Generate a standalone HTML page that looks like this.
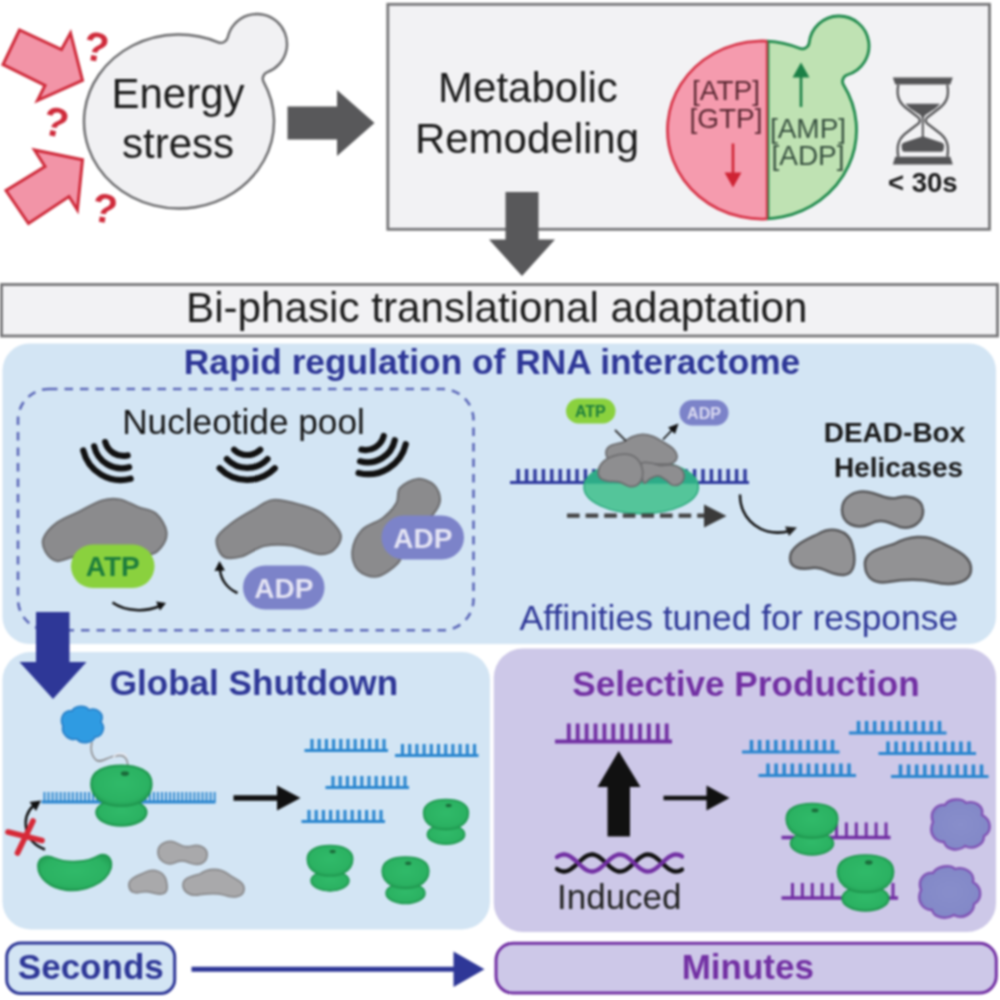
<!DOCTYPE html>
<html><head><meta charset="utf-8"><title>Bi-phasic translational adaptation</title>
<style>
html,body{margin:0;padding:0;background:#fff;}
body{width:1000px;height:1000px;overflow:hidden;}
svg{display:block;font-family:"Liberation Sans",Arial,sans-serif;filter:blur(0.9px);}
</style></head><body>
<svg width="1000" height="1000" viewBox="0 0 1000 1000">
<rect width="1000" height="1000" fill="#fff"/>
<g id="cell1">
<path d="M263.72 82.14 A95 87 0 1 1 218.24 42.27 A7 7 0 0 0 227.75 37.35 A30 30 0 1 1 267.41 72.14 A7 7 0 0 0 263.72 82.14Z" fill="#f1f1f3" stroke="#6a6a6c" stroke-width="2.400"/>
<text x="178" y="108" font-size="42" text-anchor="middle" fill="#1b1b1b">Energy</text>
<text x="178" y="157.500" font-size="42" text-anchor="middle" fill="#1b1b1b">stress</text>
</g>
<g id="redarrows" fill="#f294a7" stroke="#cf2b3b" stroke-width="3" stroke-linejoin="miter">
<polygon points="19.5,30 3,64.5 45,85.5 37.5,100.5 82.500,80.300 70.5,33 61.5,49.5"/>
<polygon points="6,190.5 28.5,223.5 69,196.5 77.4,210 82.500,159.800 34.5,150 45,166.5"/>
</g>
<g font-size="41" font-weight="bold" fill="#cf2b3b" text-anchor="middle">
<text transform="translate(94,61) rotate(9)">?</text>
<text transform="translate(53,136) rotate(12)">?</text>
<text transform="translate(102.500,222.500) rotate(9)">?</text>
</g>
<polygon points="287.5,106.5 337,106.5 337,90 374.5,123 337,156 337,139.5 287.5,139.5" fill="#58585a"/>
<rect x="387.800" y="4.300" width="601.700" height="225" fill="#f2f2f4" stroke="#767678" stroke-width="2.800"/>
<text x="528" y="102" font-size="42" text-anchor="middle" fill="#1b1b1b">Metabolic</text>
<text x="527" y="153" font-size="42" text-anchor="middle" fill="#1b1b1b">Remodeling</text>
<defs>
<clipPath id="leftHalf"><rect x="600" y="0" width="167" height="240"/></clipPath>
<clipPath id="rightHalf"><rect x="767" y="0" width="233" height="240"/></clipPath>
</defs>
<g clip-path="url(#rightHalf)">
<path d="M843.59 85.10 A94.5 89 0 1 1 799.53 48.32 A7 7 0 0 0 809.19 42.66 A30 30 0 1 1 847.60 74.74 A7 7 0 0 0 843.59 85.10Z" fill="#bfe2b3" stroke="#1f8a4c" stroke-width="2.800"/>
</g>
<g clip-path="url(#leftHalf)">
<path d="M843.59 85.10 A94.5 89 0 1 1 799.53 48.32 A7 7 0 0 0 809.19 42.66 A30 30 0 1 1 847.60 74.74 A7 7 0 0 0 843.59 85.10Z" fill="#f59bae" stroke="#d8364a" stroke-width="2.800"/>
</g>
<path d="M767 41V219" stroke="#d8364a" stroke-width="2.4"/>
<path d="M768.6 41V219" stroke="#1f8a4c" stroke-width="1.6"/>
<g font-size="28" text-anchor="middle">
<text x="726" y="100" fill="#5b2833">[ATP]</text>
<text x="726" y="128" fill="#5b2833">[GTP]</text>
<text x="808" y="138" fill="#37503f">[AMP]</text>
<text x="808" y="165" fill="#37503f">[ADP]</text>
</g>
<path d="M733 143.500V176" stroke="#cf2334" stroke-width="2.6"/>
<polygon points="724.500,172.500 741.500,172.500 733,187.500" fill="#cf2334"/>
<path d="M801 107V74" stroke="#1a8046" stroke-width="2.6"/>
<polygon points="792.500,77.500 809.500,77.500 801,62.500" fill="#1a8046"/>
<g id="hourglass" fill="#555557">
<polygon points="892.800,77.500 952.800,77.500 950.300,84.600 895.300,84.600"/>
<polygon points="895.300,156.800 950.300,156.800 952.800,164.400 892.800,164.400"/>
<path d="M898.300 84.600 C896 97 899.500 103.500 908 109.500 L918.500 117.500 Q921.200 120.500 918.500 123.500 L908 131.500 C899.500 137.500 896 144 898.300 156.800 M947.300 84.600 C949.600 97 946.100 103.500 937.600 109.500 L927.100 117.500 Q924.400 120.500 927.100 123.500 L937.600 131.500 C946.100 137.500 949.600 144 947.300 156.800" fill="none" stroke="#555557" stroke-width="2.300"/>
<path d="M905.300 103.800 H940.200 C936 109 929 112.500 926 114.500 C924.300 115.700 923.800 117 923.800 119 V137 H921.800 V119 C921.800 117 921.300 115.700 919.600 114.500 C916.600 112.500 909.600 109 905.300 103.800Z"/>
<path d="M922.800 136.300 L941.500 142.500 C943.500 143.300 944.200 144.500 944 146.500 L943.600 149.500 C943.300 151.200 942.300 151.800 940.500 151.800 H905.100 C903.300 151.800 902.300 151.200 902 149.500 L901.600 146.500 C901.400 144.500 902.100 143.300 904.100 142.500Z"/>
</g>
<text x="922.800" y="191.800" font-size="27.500" font-weight="bold" text-anchor="middle" fill="#1b1b1b">&lt; 30s</text>
<polygon points="505.5,192 538.5,192 538.5,239.5 555,239.5 522,276 489,239.500 505.5,239.500" fill="#58585a"/>
<rect x="1.500" y="284.500" width="996" height="51.500" fill="#f2f2f4" stroke="#767678" stroke-width="2.800"/>
<text x="496.800" y="321.500" font-size="42.200" text-anchor="middle" fill="#1b1b1b">Bi-phasic translational adaptation</text>
<rect x="2.500" y="343.500" width="993.500" height="300.500" rx="27" fill="#d3e5f4"/>
<text x="492" y="374" font-size="35.300" font-weight="bold" text-anchor="middle" fill="#2e3797">Rapid regulation of RNA interactome</text>
<rect x="18" y="389" width="455.500" height="241.300" rx="31" fill="none" stroke="#5c68b8" stroke-width="2.600" stroke-dasharray="8.500 7"/>
<text x="243.500" y="433.700" font-size="35.200" text-anchor="middle" fill="#151515">Nucleotide pool</text>
<g fill="none" stroke="#111" stroke-width="6.200" stroke-linecap="round">
<path transform="translate(121.4,440.4) rotate(30.8)" d="M13.06 9.72A18.8 18.8 0 0 1 -13.06 9.72M20.31 19.07A28 28 0 0 1 -20.31 19.07M27.58 28.21A38.6 38.6 0 0 1 -27.58 28.21"/>
<path transform="translate(247.2,440) rotate(0)" d="M13.06 9.72A18.8 18.8 0 0 1 -13.06 9.72M20.31 19.07A28 28 0 0 1 -20.31 19.07M27.58 28.21A38.6 38.6 0 0 1 -27.58 28.21"/>
<path transform="translate(367.5,434.5) rotate(-31.3)" d="M13.06 9.72A18.8 18.8 0 0 1 -13.06 9.72M20.31 19.07A28 28 0 0 1 -20.31 19.07M27.58 28.21A38.6 38.6 0 0 1 -27.58 28.21"/>
</g>
<g fill="#8b8b8d" stroke="#6f6f71" stroke-width="2.200">
<path d="M43.5 538.5C45.4 533.6 51.0 527.2 57.0 522.7C63.0 518.2 72.0 515.2 79.5 511.5C87.0 507.8 95.2 502.5 102.0 500.5C108.8 498.5 114.0 498.4 120.0 499.5C126.0 500.6 132.0 504.6 138.0 507.0C144.0 509.4 151.3 509.6 156.0 513.7C160.7 517.8 165.7 526.0 166.4 531.7C167.2 537.4 163.9 544.1 160.5 548.0C157.1 551.9 154.4 554.3 146.0 555.0C137.6 555.7 121.8 551.8 110.0 552.0C98.2 552.2 83.8 555.0 75.0 556.5C66.2 558.0 61.9 561.8 57.0 561.0C52.1 560.2 48.0 555.8 45.7 552.0C43.5 548.2 41.6 543.4 43.5 538.5Z"/>
<path d="M216.8 538.5C218.3 532.9 226.1 527.6 232.5 522.7C238.9 517.8 248.2 512.8 255.0 509.0C261.8 505.2 265.5 500.7 273.0 500.0C280.5 499.3 291.8 502.4 300.0 504.7C308.2 507.0 315.8 508.8 322.5 513.7C329.2 518.6 338.6 528.0 340.5 534.0C342.4 540.0 337.4 546.7 333.7 550.0C329.9 553.3 325.1 554.8 318.0 554.0C310.9 553.2 300.0 546.8 291.0 545.5C282.0 544.2 272.2 544.2 264.0 546.0C255.8 547.8 248.2 554.8 241.5 556.5C234.8 558.2 227.6 559.5 223.5 556.5C219.4 553.5 215.3 544.1 216.8 538.5Z"/>
<path d="M417.5 479.0C423.2 478.5 430.2 481.5 434.0 485.0C437.8 488.5 440.2 495.0 440.0 500.0C439.8 505.0 436.7 510.0 432.5 515.0C428.3 520.0 419.8 524.5 415.0 530.0C410.2 535.5 406.8 542.5 404.0 548.0C401.2 553.5 402.5 558.2 398.0 563.0C393.5 567.8 383.7 575.3 377.0 576.5C370.3 577.7 362.1 574.2 358.0 570.0C353.9 565.8 351.7 557.7 352.4 551.0C353.1 544.3 356.9 535.5 362.0 530.0C367.1 524.5 377.2 522.5 383.0 518.0C388.8 513.5 393.7 508.0 396.5 503.0C399.3 498.0 396.5 492.0 400.0 488.0C403.5 484.0 411.8 479.5 417.5 479.0Z"/>
</g>
<g font-size="28" font-weight="bold" text-anchor="middle">
<rect x="71" y="544.500" width="83.500" height="43.500" rx="21.700" fill="#8ad13e"/>
<text x="112.800" y="575.500" fill="#1e7d3c">ATP</text>
<rect x="243" y="565.500" width="81.500" height="44" rx="22" fill="#7c83c9"/>
<text x="283.800" y="597.500" fill="#e4e4f4">ADP</text>
<rect x="381.500" y="515.500" width="82.500" height="44" rx="22" fill="#7c83c9"/>
<text x="422.800" y="547.500" fill="#e4e4f4">ADP</text>
</g>
<g fill="none" stroke="#111" stroke-width="2.500">
<path d="M112.500 602.500 C126 612 146 612 160 606"/>
<path d="M237.500 593 C226 588 220 578 220 568"/>
</g>
<polygon points="166,603 156,601.500 160,610.500" fill="#111"/>
<polygon points="219.500,561 214.500,571 225,570.500" fill="#111"/>
<path d="M510 482.5H749" stroke="#2f3a9e" stroke-width="3.2" fill="none"/><path d="M518.2 482.5v-13.5M526.6 482.5v-13.5M535.0 482.5v-13.5M543.4 482.5v-13.5M551.8 482.5v-13.5M560.2 482.5v-13.5M568.6 482.5v-13.5M577.0 482.5v-13.5M585.4 482.5v-13.5M593.8 482.5v-13.5M602.2 482.5v-13.5M610.6 482.5v-13.5M619.0 482.5v-13.5M627.4 482.5v-13.5M635.8 482.5v-13.5M644.2 482.5v-13.5M652.6 482.5v-13.5M661.0 482.5v-13.5M669.4 482.5v-13.5M677.8 482.5v-13.5M686.2 482.5v-13.5M694.6 482.5v-13.5M703.0 482.5v-13.5M711.4 482.5v-13.5M719.8 482.5v-13.5M728.2 482.5v-13.5M736.6 482.5v-13.5M745.0 482.5v-13.5" stroke="#2f3a9e" stroke-width="3.4" fill="none"/>
<clipPath id="ellTop"><rect x="580" y="455" width="125" height="28.700"/></clipPath>
<ellipse cx="641.200" cy="487" rx="57.200" ry="26.700" fill="#54c59a" stroke="#2aa87c" stroke-width="1.500"/>
<ellipse cx="641.200" cy="487" rx="56.400" ry="25.900" fill="#2dab88" clip-path="url(#ellTop)"/>
<g fill="#8e8e90" stroke="#6e6e70" stroke-width="1.800">
<path d="M606.0 453.8C605.6 451.2 607.2 447.9 610.0 446.0C612.8 444.1 619.3 443.6 623.0 442.1C626.7 440.6 628.8 438.2 632.0 436.9C635.2 435.6 638.9 434.4 642.4 434.3C645.9 434.2 649.3 435.0 652.8 436.3C656.3 437.6 659.7 439.9 663.2 442.1C666.7 444.3 671.3 446.7 673.6 449.3C675.9 451.9 677.3 455.3 676.9 457.7C676.5 460.1 674.1 462.5 671.0 463.6C667.9 464.7 664.5 464.1 658.0 464.2C651.5 464.3 639.6 464.6 632.0 464.2C624.4 463.8 616.8 463.3 612.5 461.6C608.2 459.9 606.4 456.4 606.0 453.8Z"/>
<path d="M641.1 464.2C642.2 460.9 647.0 462.7 650.2 462.9C653.5 463.1 657.1 465.2 660.6 465.5C664.1 465.8 667.8 464.5 671.0 464.9C674.2 465.3 677.9 466.3 680.1 468.1C682.3 469.9 684.0 473.3 684.0 475.9C684.0 478.5 682.1 482.2 680.1 483.7C678.1 485.2 674.7 485.6 672.3 485.0C669.9 484.4 668.2 481.3 665.8 479.8C663.4 478.3 660.6 476.1 658.0 475.9C655.4 475.7 652.6 477.4 650.2 478.5C647.8 479.6 645.2 484.8 643.7 482.4C642.2 480.0 640.0 467.4 641.1 464.2Z"/>
<path d="M598.2 472.0C598.4 469.4 599.7 465.5 602.1 462.9C604.5 460.3 608.6 457.9 612.5 456.4C616.4 454.9 621.6 453.9 625.5 454.1C629.4 454.3 633.2 455.6 635.9 457.7C638.6 459.8 640.7 463.6 641.8 466.8C642.9 470.1 643.2 474.2 642.4 477.2C641.6 480.2 639.4 483.5 637.2 485.0C635.0 486.5 632.4 486.8 629.4 486.3C626.4 485.8 622.5 482.7 619.0 481.8C615.5 480.9 611.6 481.7 608.6 481.1C605.6 480.6 602.5 480.0 600.8 478.5C599.1 477.0 598.0 474.6 598.2 472.0Z"/>
</g>
<rect x="566" y="398.500" width="49.500" height="25" rx="12.500" fill="#8ad13e"/>
<text x="590.300" y="416.500" font-size="16" font-weight="bold" text-anchor="middle" fill="#1e7d3c">ATP</text>
<rect x="679.500" y="400" width="49" height="25.500" rx="12.700" fill="#7c83c9"/>
<text x="704" y="418.500" font-size="16" font-weight="bold" text-anchor="middle" fill="#dcdcf2">ADP</text>
<path d="M615 430 L626 441" stroke="#333" stroke-width="1.800"/>
<path d="M663 439.500 L673 429" stroke="#111" stroke-width="1.800"/>
<polygon points="678.500,423.500 668,427.500 675,434" fill="#111"/>
<path d="M567 515.700 H706" stroke="#444" stroke-width="4.300" stroke-dasharray="12.600 6"/>
<polygon points="704,504.500 726.500,516 704,527.500" fill="#3a3a3a"/>
<path d="M740 494.500 C740 520 762 538 790 531" fill="none" stroke="#111" stroke-width="2.500"/>
<polygon points="797,527.500 785,526.500 789,536" fill="#222"/>
<text x="894.500" y="442" font-size="28" font-weight="bold" text-anchor="middle" fill="#1a1a1a">DEAD-Box</text>
<text x="898.500" y="476.500" font-size="28" font-weight="bold" text-anchor="middle" fill="#1a1a1a">Helicases</text>
<g fill="#929294" stroke="#58585a" stroke-width="2.500">
<path d="M842 510 C842 496 856 490 868 492 C880 494 886 500 896 498 C908 494 922 498 923 510 C924 522 912 530 900 527 C888 522 880 518 870 524 C856 530 842 524 842 510Z"/>
<path d="M790 558 C790 546 806 540 818 534 C832 526 848 530 852 544 C856 558 856 574 844 575 C830 576 824 566 812 568 C800 570 790 568 790 558Z"/>
<path d="M865 566 C863 552 880 548 894 544 C908 536 926 534 940 542 C956 550 972 556 971 570 C970 584 950 586 934 582 C916 578 900 580 888 582 C874 584 866 578 865 566Z"/>
</g>
<text x="738.900" y="629.800" font-size="35.450" text-anchor="middle" fill="#2e3797">Affinities tuned for response</text>
<defs>
<radialGradient id="gRib" cx="0.5" cy="0.45" r="0.62"><stop offset="0" stop-color="#30ba69"/><stop offset="0.7" stop-color="#2bb262"/><stop offset="1" stop-color="#1f9850"/></radialGradient>
<radialGradient id="gPur" cx="0.5" cy="0.5" r="0.6"><stop offset="0" stop-color="#888ecb"/><stop offset="0.75" stop-color="#8389c8"/><stop offset="1" stop-color="#7a72be"/></radialGradient>
</defs>
<rect x="2.500" y="652" width="487.500" height="277.500" rx="28" fill="#d3e5f4"/>
<rect x="493.800" y="648.500" width="502.200" height="283.500" rx="29" fill="#cdc8e8"/>
<polygon points="36,612 69.500,612 69.500,662 86.500,662 53,699 19.500,662 36,662" fill="#2e3797"/>
<text x="109.700" y="695" font-size="35.100" font-weight="bold" fill="#2e3797">Global Shutdown</text>
<text x="572.200" y="695.500" font-size="35.150" font-weight="bold" fill="#7230a3">Selective Production</text>
<path d="M41.5 802H215.5" stroke="#2a86cf" stroke-width="2.8" fill="none"/><path d="M44.5 802v-10M48.5 802v-10M52.6 802v-10M56.6 802v-10M60.7 802v-10M64.7 802v-10M68.8 802v-10M72.8 802v-10M76.9 802v-10M80.9 802v-10M85.0 802v-10M89.0 802v-10M93.1 802v-10M97.1 802v-10M101.2 802v-10M105.2 802v-10M109.3 802v-10M113.3 802v-10M117.4 802v-10M121.4 802v-10M125.5 802v-10M129.5 802v-10M133.6 802v-10M137.6 802v-10M141.7 802v-10M145.8 802v-10M149.8 802v-10M153.9 802v-10M157.9 802v-10M162.0 802v-10M166.0 802v-10M170.1 802v-10M174.1 802v-10M178.2 802v-10M182.2 802v-10M186.3 802v-10M190.3 802v-10M194.4 802v-10M198.4 802v-10M202.5 802v-10M206.5 802v-10M210.6 802v-10M214.6 802v-10" stroke="#2a86cf" stroke-width="1.9" fill="none"/>
<path d="M63 726 C59 718 64 710 72 711 C75 705 86 705 89 710 C97 707 105 714 101 722 C106 728 102 737 95 737 C92 744 80 744 77 739 C69 741 61 734 63 726Z" fill="#2f9be2" stroke="#2a80c8" stroke-width="1.800"/>
<path d="M92 742 C90 750 92 756 96 760 C102 764 108 756 116 756 C124 754 128 758 128 768" fill="none" stroke="#8e8e90" stroke-width="1.600"/>
<path d="M113 758 C116 752 126 752 127 758" fill="none" stroke="#e8e8ee" stroke-width="1.400"/>
<g transform="translate(121.4,765.5) scale(1.01)">
<ellipse cx="0" cy="46.500" rx="25" ry="13.300" fill="url(#gRib)" stroke="#1f964e" stroke-width="1.800"/>
<path d="M-30 18 C-30 5 -16 0 0 0 C16 0 30 5 30 18 C30 27 25 33 17 37 C9 41 -9 41 -17 37 C-25 33 -30 27 -30 18Z" fill="url(#gRib)" stroke="#1f964e" stroke-width="1.800"/>
<ellipse cx="3.500" cy="8" rx="4" ry="2.300" fill="#1a6b3a"/>
</g>
<path d="M45 849.500 C24 842 20 818 34 805" fill="none" stroke="#111" stroke-width="2.500"/>
<polygon points="41,800.500 29.500,802 36,811" fill="#111"/>
<path d="M8 832 L42 840.500 M33 821 L17.500 853" stroke="#d62a38" stroke-width="5.600" stroke-linecap="round"/>
<path d="M38 866 C38 858 46 854 54 858 C68 864 88 862 98 856 C106 852 113 858 111 868 C106 884 84 892 66 890 C50 888 38 878 38 866Z" fill="url(#gRib)" stroke="#1f964e" stroke-width="1.800"/>
<g fill="#a9a9ab" stroke="#8a8a8c" stroke-width="1.800">
<path d="M158 852 C158 844 167 840 174 842 C182 846 186 848 192 846 C200 844 208 848 207 856 C206 864 198 866 190 863 C184 860 180 860 174 863 C166 866 158 860 158 852Z"/>
<path d="M129 886 C128 878 138 876 146 872 C154 868 164 872 166 880 C168 888 168 894 160 894 C152 894 150 890 142 892 C134 894 130 892 129 886Z"/>
<path d="M183 886 C182 878 192 876 200 874 C208 868 220 868 228 874 C236 880 245 882 244 890 C243 898 232 898 224 895 C214 892 206 894 198 895 C190 896 184 892 183 886Z"/>
</g>
<path d="M233.500 798 H280" stroke="#111" stroke-width="5.400"/>
<polygon points="277,785.500 300.500,798 277,810.500" fill="#111"/>
<path d="M304.5 750.5H388.0" stroke="#2a86cf" stroke-width="2.8" fill="none"/><path d="M312.0 750.5v-11.5M319.2 750.5v-11.5M326.4 750.5v-11.5M333.6 750.5v-11.5M340.8 750.5v-11.5M348.0 750.5v-11.5M355.2 750.5v-11.5M362.4 750.5v-11.5M369.6 750.5v-11.5M376.8 750.5v-11.5M384.0 750.5v-11.5" stroke="#2a86cf" stroke-width="3.1" fill="none"/>
<path d="M395 755.5H478.5" stroke="#2a86cf" stroke-width="2.8" fill="none"/><path d="M402.5 755.5v-11.5M409.7 755.5v-11.5M416.9 755.5v-11.5M424.1 755.5v-11.5M431.3 755.5v-11.5M438.5 755.5v-11.5M445.7 755.5v-11.5M452.9 755.5v-11.5M460.1 755.5v-11.5M467.3 755.5v-11.5M474.5 755.5v-11.5" stroke="#2a86cf" stroke-width="3.1" fill="none"/>
<path d="M325.5 787.5H409.0" stroke="#2a86cf" stroke-width="2.8" fill="none"/><path d="M333.0 787.5v-11.5M340.2 787.5v-11.5M347.4 787.5v-11.5M354.6 787.5v-11.5M361.8 787.5v-11.5M369.0 787.5v-11.5M376.2 787.5v-11.5M383.4 787.5v-11.5M390.6 787.5v-11.5M397.8 787.5v-11.5M405.0 787.5v-11.5" stroke="#2a86cf" stroke-width="3.1" fill="none"/>
<path d="M301.5 821.5H385.0" stroke="#2a86cf" stroke-width="2.8" fill="none"/><path d="M309.0 821.5v-11.5M316.2 821.5v-11.5M323.4 821.5v-11.5M330.6 821.5v-11.5M337.8 821.5v-11.5M345.0 821.5v-11.5M352.2 821.5v-11.5M359.4 821.5v-11.5M366.6 821.5v-11.5M373.8 821.5v-11.5M381.0 821.5v-11.5" stroke="#2a86cf" stroke-width="3.1" fill="none"/>
<g transform="translate(330,845.5) scale(0.76)">
<ellipse cx="0" cy="46.500" rx="25" ry="13.300" fill="url(#gRib)" stroke="#1f964e" stroke-width="1.800"/>
<path d="M-30 18 C-30 5 -16 0 0 0 C16 0 30 5 30 18 C30 27 25 33 17 37 C9 41 -9 41 -17 37 C-25 33 -30 27 -30 18Z" fill="url(#gRib)" stroke="#1f964e" stroke-width="1.800"/>
<ellipse cx="3.500" cy="8" rx="4" ry="2.300" fill="#1a6b3a"/>
</g>
<g transform="translate(405.5,857) scale(0.78)">
<ellipse cx="0" cy="46.500" rx="25" ry="13.300" fill="url(#gRib)" stroke="#1f964e" stroke-width="1.800"/>
<path d="M-30 18 C-30 5 -16 0 0 0 C16 0 30 5 30 18 C30 27 25 33 17 37 C9 41 -9 41 -17 37 C-25 33 -30 27 -30 18Z" fill="url(#gRib)" stroke="#1f964e" stroke-width="1.800"/>
<ellipse cx="3.500" cy="8" rx="4" ry="2.300" fill="#1a6b3a"/>
</g>
<g transform="translate(446,799.5) scale(0.75)">
<ellipse cx="0" cy="46.500" rx="25" ry="13.300" fill="url(#gRib)" stroke="#1f964e" stroke-width="1.800"/>
<path d="M-30 18 C-30 5 -16 0 0 0 C16 0 30 5 30 18 C30 27 25 33 17 37 C9 41 -9 41 -17 37 C-25 33 -30 27 -30 18Z" fill="url(#gRib)" stroke="#1f964e" stroke-width="1.800"/>
<ellipse cx="3.500" cy="8" rx="4" ry="2.300" fill="#1a6b3a"/>
</g>
<path d="M555 741.5H672" stroke="#7230a3" stroke-width="3.8" fill="none"/><path d="M568.8 741.5v-18M577.7 741.5v-18M586.6 741.5v-18M595.5 741.5v-18M604.4 741.5v-18M613.3 741.5v-18M622.2 741.5v-18M631.1 741.5v-18M640.0 741.5v-18M648.9 741.5v-18M657.8 741.5v-18M666.7 741.5v-18" stroke="#7230a3" stroke-width="3.8" fill="none"/>
<polygon points="607.500,836.500 630,836.500 630,787 640.500,787 618.700,751 597.500,787 607.500,787" fill="#111"/>
<path d="M663.500 798 H710" stroke="#111" stroke-width="4.600"/>
<polygon points="706.500,785.500 729.500,798 706.500,810.500" fill="#111"/>
<path d="M557.0 869.0 L558.6 870.0 L560.1 870.7 L561.7 871.2 L563.2 871.5 L564.8 871.5 L566.4 871.2 L567.9 870.7 L569.5 869.9 L571.1 869.0 L572.6 867.8 L574.2 866.5 L575.8 865.1 L577.3 863.7 L578.9 862.2 L580.4 860.7 L582.0 859.3 L583.6 858.0 L585.1 856.9 L586.7 856.0 L588.2 855.2 L589.8 854.8 L591.4 854.5 L592.9 854.5 L594.5 854.8 L596.1 855.4 L597.6 856.1 L599.2 857.1 L600.8 858.3 L602.3 859.6 L603.9 861.0 L605.4 862.5 L607.0 864.0 L608.6 865.4 L610.1 866.8 L611.7 868.1 L613.2 869.2 L614.8 870.1 L616.4 870.8 L617.9 871.3 L619.5 871.5 L621.1 871.4 L622.6 871.1 L624.2 870.6 L625.8 869.8 L627.3 868.8 L628.9 867.6 L630.4 866.3 L632.0 864.9 L633.6 863.4 L635.1 861.9 L636.7 860.5 L638.2 859.1 L639.8 857.8 L641.4 856.7 L642.9 855.8 L644.5 855.1 L646.1 854.7 L647.6 854.5 L649.2 854.6 L650.8 854.9 L652.3 855.5 L653.9 856.3 L655.4 857.3 L657.0 858.5 L658.6 859.8 L660.1 861.2 L661.7 862.7 L663.2 864.2 L664.8 865.6 L666.4 867.0 L667.9 868.3 L669.5 869.3 L671.1 870.2 L672.6 870.9 L674.2 871.3 L675.8 871.5 L677.3 871.4 L678.9 871.1 L680.4 870.5 L682.0 869.6" fill="none" stroke="#111" stroke-width="4.300" stroke-linecap="round"/>
<path d="M557.0 857.0 L558.6 856.0 L560.1 855.3 L561.7 854.8 L563.2 854.5 L564.8 854.5 L566.4 854.8 L567.9 855.3 L569.5 856.1 L571.1 857.0 L572.6 858.2 L574.2 859.5 L575.8 860.9 L577.3 862.3 L578.9 863.8 L580.4 865.3 L582.0 866.7 L583.6 868.0 L585.1 869.1 L586.7 870.0 L588.2 870.8 L589.8 871.2 L591.4 871.5 L592.9 871.5 L594.5 871.2 L596.1 870.6 L597.6 869.9 L599.2 868.9 L600.8 867.7 L602.3 866.4 L603.9 865.0 L605.4 863.5 L607.0 862.0 L608.6 860.6 L610.1 859.2 L611.7 857.9 L613.2 856.8 L614.8 855.9 L616.4 855.2 L617.9 854.7 L619.5 854.5 L621.1 854.6 L622.6 854.9 L624.2 855.4 L625.8 856.2 L627.3 857.2 L628.9 858.4 L630.4 859.7 L632.0 861.1 L633.6 862.6 L635.1 864.1 L636.7 865.5 L638.2 866.9 L639.8 868.2 L641.4 869.3 L642.9 870.2 L644.5 870.9 L646.1 871.3 L647.6 871.5 L649.2 871.4 L650.8 871.1 L652.3 870.5 L653.9 869.7 L655.4 868.7 L657.0 867.5 L658.6 866.2 L660.1 864.8 L661.7 863.3 L663.2 861.8 L664.8 860.4 L666.4 859.0 L667.9 857.7 L669.5 856.7 L671.1 855.8 L672.6 855.1 L674.2 854.7 L675.8 854.5 L677.3 854.6 L678.9 854.9 L680.4 855.5 L682.0 856.4" fill="none" stroke="#7230a3" stroke-width="4.300" stroke-linecap="round"/>
<text x="557" y="908.500" font-size="35" fill="#222">Induced</text>
<path d="M742 752H839.5" stroke="#2a86cf" stroke-width="3.2" fill="none"/><path d="M751.5 752v-12M759.6 752v-12M767.7 752v-12M775.8 752v-12M783.9 752v-12M792.0 752v-12M800.1 752v-12M808.2 752v-12M816.3 752v-12M824.4 752v-12M832.5 752v-12" stroke="#2a86cf" stroke-width="3.5" fill="none"/>
<path d="M849 733H946.5" stroke="#2a86cf" stroke-width="3.2" fill="none"/><path d="M858.5 733v-12M866.6 733v-12M874.7 733v-12M882.8 733v-12M890.9 733v-12M899.0 733v-12M907.1 733v-12M915.2 733v-12M923.3 733v-12M931.4 733v-12M939.5 733v-12" stroke="#2a86cf" stroke-width="3.5" fill="none"/>
<path d="M878.5 753.5H976.0" stroke="#2a86cf" stroke-width="3.2" fill="none"/><path d="M888.0 753.5v-12M896.1 753.5v-12M904.2 753.5v-12M912.3 753.5v-12M920.4 753.5v-12M928.5 753.5v-12M936.6 753.5v-12M944.7 753.5v-12M952.8 753.5v-12M960.9 753.5v-12M969.0 753.5v-12" stroke="#2a86cf" stroke-width="3.5" fill="none"/>
<path d="M758.5 775.5H856.0" stroke="#2a86cf" stroke-width="3.2" fill="none"/><path d="M768.0 775.5v-12M776.1 775.5v-12M784.2 775.5v-12M792.3 775.5v-12M800.4 775.5v-12M808.5 775.5v-12M816.6 775.5v-12M824.7 775.5v-12M832.8 775.5v-12M840.9 775.5v-12M849.0 775.5v-12" stroke="#2a86cf" stroke-width="3.5" fill="none"/>
<path d="M891 776.5H988.5" stroke="#2a86cf" stroke-width="3.2" fill="none"/><path d="M900.5 776.5v-12M908.6 776.5v-12M916.7 776.5v-12M924.8 776.5v-12M932.9 776.5v-12M941.0 776.5v-12M949.1 776.5v-12M957.2 776.5v-12M965.3 776.5v-12M973.4 776.5v-12M981.5 776.5v-12" stroke="#2a86cf" stroke-width="3.5" fill="none"/>
<path d="M781.5 837.5H890.5" stroke="#7230a3" stroke-width="3.4" fill="none"/><path d="M836.5 837.5v-15M846.4 837.5v-15M856.3 837.5v-15M866.2 837.5v-15M876.1 837.5v-15M886.0 837.5v-15" stroke="#7230a3" stroke-width="3" fill="none"/>
<g transform="translate(812,803.5) scale(0.86)">
<ellipse cx="0" cy="46.500" rx="25" ry="13.300" fill="url(#gRib)" stroke="#1f964e" stroke-width="1.800"/>
<path d="M-30 18 C-30 5 -16 0 0 0 C16 0 30 5 30 18 C30 27 25 33 17 37 C9 41 -9 41 -17 37 C-25 33 -30 27 -30 18Z" fill="url(#gRib)" stroke="#1f964e" stroke-width="1.800"/>
<ellipse cx="3.500" cy="8" rx="4" ry="2.300" fill="#1a6b3a"/>
</g>
<path d="M781.5 898H898" stroke="#7230a3" stroke-width="3.4" fill="none"/><path d="M792.5 898v-15M802.4 898v-15M812.3 898v-15M822.2 898v-15M832.1 898v-15" stroke="#7230a3" stroke-width="3" fill="none"/>
<path d="M893 898v-15" stroke="#7230a3" stroke-width="3"/><g transform="translate(865.5,855) scale(0.935)">
<ellipse cx="0" cy="46.500" rx="25" ry="13.300" fill="url(#gRib)" stroke="#1f964e" stroke-width="1.800"/>
<path d="M-30 18 C-30 5 -16 0 0 0 C16 0 30 5 30 18 C30 27 25 33 17 37 C9 41 -9 41 -17 37 C-25 33 -30 27 -30 18Z" fill="url(#gRib)" stroke="#1f964e" stroke-width="1.800"/>
<ellipse cx="3.500" cy="8" rx="4" ry="2.300" fill="#1a6b3a"/>
</g>
<g fill="url(#gPur)" stroke="#8050b4" stroke-width="2.300">
<path d="M933 822 C929 812 936 804 945 805 C949 798 962 798 966 803 C975 800 984 806 982 815 C992 820 992 832 984 836 C984 846 972 850 965 846 C958 852 946 850 944 842 C934 842 928 832 933 822Z"/>
<path d="M921 890 C917 880 924 872 933 873 C937 866 950 864 955 869 C964 866 975 872 973 882 C983 888 982 900 974 904 C974 914 962 920 954 915 C946 920 934 918 932 910 C922 910 916 900 921 890Z"/>
</g>
<rect x="6.700" y="943" width="168" height="50.500" rx="14" fill="#d3e5f4" stroke="#2e3797" stroke-width="3"/>
<text x="90.800" y="979" font-size="35" font-weight="bold" text-anchor="middle" fill="#2e3797">Seconds</text>
<path d="M191.500 969.300 H456" stroke="#2e3797" stroke-width="5"/>
<polygon points="453.500,951.500 484.500,969.200 453.500,987" fill="#2e3797"/>
<rect x="496" y="943.300" width="500.300" height="49.800" rx="17" fill="#cdc8e8" stroke="#7230a3" stroke-width="3"/>
<text x="747.800" y="978.500" font-size="35" font-weight="bold" text-anchor="middle" fill="#7230a3">Minutes</text>
</svg></body></html>
